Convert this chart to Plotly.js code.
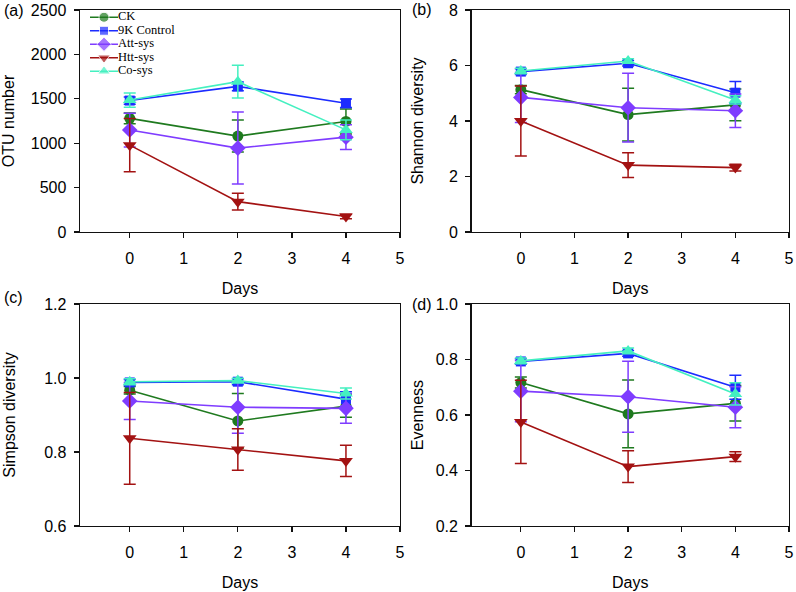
<!DOCTYPE html>
<html>
<head>
<meta charset="utf-8">
<script src="https://cdn.plot.ly/plotly-3.0.1.min.js"></script>
<style>html,body{margin:0;padding:0;background:#fff;}#chart{width:796px;height:592px;}</style>
</head>
<body>
<div id="chart"></div>
<script>
// ---- data ----
const days = [0, 2, 4];
const seriesNames = ['CK', '9K Control', 'Att-sys', 'Htt-sys', 'Co-sys'];

// (a) OTU number
const otuCK = [1280, 1080, 1245];      const otuCKErr = [60, 180, 140];
const otu9K = [1480, 1640, 1450];      const otu9KErr = [40, 50, 48];
const otuAtt = [1148, 945, 1068];      const otuAttErr = [190, 405, 140];
const otuHtt = [978, 342, 175];        const otuHttErr = [300, 95, 25];
const otuCo = [1486, 1693, 1150];      const otuCoErr = [80, 185, 110];

// (b) Shannon diversity
const shaCK = [5.13, 4.23, 4.58];      const shaCKErr = [0.15, 0.95, 0.57];
const sha9K = [5.78, 6.08, 5.02];      const sha9KErr = [0.1, 0.1, 0.4];
const shaAtt = [4.85, 4.48, 4.37];     const shaAttErr = [0.9, 1.24, 0.6];
const shaHtt = [4.0, 2.41, 2.32];      const shaHttErr = [1.26, 0.45, 0.12];
const shaCo = [5.8, 6.16, 4.76];       const shaCoErr = [0.1, 0.08, 0.15];

// (c) Simpson diversity
const simCK = [0.967, 0.884, 0.924];   const simCKErr = [0.01, 0.074, 0.03];
const sim9K = [0.988, 0.99, 0.943];    const sim9KErr = [0.008, 0.008, 0.02];
const simAtt = [0.938, 0.921, 0.918];  const simAttErr = [0.05, 0.07, 0.04];
const simHtt = [0.837, 0.807, 0.776];  const simHttErr = [0.124, 0.056, 0.042];
const simCo = [0.99, 0.993, 0.958];    const simCoErr = [0.008, 0.006, 0.015];

// (d) Evenness
const evnCK = [0.717, 0.604, 0.642];   const evnCKErr = [0.02, 0.122, 0.064];
const evn9K = [0.793, 0.822, 0.70];    const evn9KErr = [0.01, 0.01, 0.043];
const evnAtt = [0.686, 0.666, 0.628];  const evnAttErr = [0.11, 0.128, 0.074];
const evnHtt = [0.575, 0.414, 0.45];   const evnHttErr = [0.15, 0.057, 0.018];
const evnCo = [0.795, 0.831, 0.676];   const evnCoErr = [0.01, 0.01, 0.04];

const xTicks = [0, 1, 2, 3, 4, 5];
const yTicksA = [0, 500, 1000, 1500, 2000, 2500];
const yTicksB = [0, 2, 4, 6, 8];
const yTicksC = [0.6, 0.8, 1.0, 1.2];
const yTicksD = [0.2, 0.4, 0.6, 0.8, 1.0];

// ---- styles ----
const colors = ['#1f7a1f', '#1c2cff', '#7f3cff', '#a31212', '#44f0c0'];
const symbols = ['circle', 'square', 'diamond', 'triangle-down', 'triangle-up'];
const msizes = [11, 10, 12, 12, 12];

const panels = [
  {xa: 'x', ya: 'y', vals: [otuCK, otu9K, otuAtt, otuHtt, otuCo], errs: [otuCKErr, otu9KErr, otuAttErr, otuHttErr, otuCoErr]},
  {xa: 'x2', ya: 'y2', vals: [shaCK, sha9K, shaAtt, shaHtt, shaCo], errs: [shaCKErr, sha9KErr, shaAttErr, shaHttErr, shaCoErr]},
  {xa: 'x3', ya: 'y3', vals: [simCK, sim9K, simAtt, simHtt, simCo], errs: [simCKErr, sim9KErr, simAttErr, simHttErr, simCoErr]},
  {xa: 'x4', ya: 'y4', vals: [evnCK, evn9K, evnAtt, evnHtt, evnCo], errs: [evnCKErr, evn9KErr, evnAttErr, evnHttErr, evnCoErr]}
];

const traces = [];
panels.forEach(p => {
  seriesNames.forEach((name, i) => {
    traces.push({
      type: 'scatter', mode: 'lines+markers', name: name, showlegend: false,
      x: days, y: p.vals[i], xaxis: p.xa, yaxis: p.ya,
      line: {color: colors[i], width: 1.6},
      marker: {color: colors[i], symbol: symbols[i], size: msizes[i]},
      error_y: {type: 'data', array: p.errs[i], visible: true, color: colors[i], thickness: 1.5, width: 6},
      cliponaxis: false
    });
  });
});

// custom compact legend (rows derived from series index)
seriesNames.forEach((name, i) => {
  traces.push({
    type: 'scatter', mode: 'lines+markers+text', showlegend: false, hoverinfo: 'skip',
    x: [0, 14, 28], y: [i, i, i], xaxis: 'x5', yaxis: 'y5',
    line: {color: colors[i], width: 1.6},
    marker: {color: colors[i], symbol: symbols[i], size: [0, msizes[i] - 1, 0]},
    text: ['', '', name], textposition: 'middle right',
    textfont: {family: 'Liberation Serif, Times New Roman, serif', size: 12.5, color: '#000'},
    cliponaxis: false
  });
});

const W = 796, H = 592;
const dx = (a, b) => [a / W, b / W];
const dy = (top, bot) => [1 - bot / H, 1 - top / H];

const fontFam = 'Liberation Sans, Arial, sans-serif';
function xAxis(dom, anchor) {
  return {
    domain: dom, anchor: anchor, range: [-0.92, 5.0], tickvals: xTicks,
    ticks: 'outside', ticklen: 5, tickwidth: 1.3, tickcolor: '#111',
    showline: true, linecolor: '#111', linewidth: 1.4, mirror: true,
    showgrid: false, zeroline: false, automargin: false,
    tickfont: {family: fontFam, size: 16, color: '#000'}, ticklabelstandoff: 6,
    title: {text: 'Days', font: {family: fontFam, size: 16, color: '#000'}, standoff: 17}
  };
}
function yAxis(dom, anchor, range, ticks, fmt, title, standoff) {
  return {
    domain: dom, anchor: anchor, range: range, tickvals: ticks, tickformat: fmt,
    ticks: 'outside', ticklen: 5, tickwidth: 1.3, tickcolor: '#111',
    showline: true, linecolor: '#111', linewidth: 1.4, mirror: true,
    showgrid: false, zeroline: false, automargin: false,
    tickfont: {family: fontFam, size: 16, color: '#000'}, ticklabelstandoff: 4,
    title: {text: title, font: {family: fontFam, size: 16, color: '#000'}, standoff: standoff}
  };
}

const layout = {
  width: W, height: H, margin: {l: 0, r: 0, t: 0, b: 0},
  paper_bgcolor: '#fff', plot_bgcolor: 'rgba(0,0,0,0)', showlegend: false,
  xaxis: xAxis(dx(80, 400), 'y'),
  yaxis: yAxis(dy(10, 232), 'x', [0, 2500], yTicksA, 'd', 'OTU number', 18),
  xaxis2: xAxis(dx(471.5, 789), 'y2'),
  yaxis2: yAxis(dy(10, 232), 'x2', [0, 8], yTicksB, 'd', 'Shannon diversity', 21),
  xaxis3: xAxis(dx(80, 400), 'y3'),
  yaxis3: yAxis(dy(304, 526), 'x3', [0.6, 1.2], yTicksC, '.1f', 'Simpson diversity', 24),
  xaxis4: xAxis(dx(471.5, 789), 'y4'),
  yaxis4: yAxis(dy(304, 526), 'x4', [0.2, 1.0], yTicksD, '.1f', 'Evenness', 8),
  xaxis5: {domain: dx(90, 200), anchor: 'y5', range: [0, 110], visible: false, fixedrange: true},
  yaxis5: {domain: dy(10.5, 78), anchor: 'x5', range: [4.5, -0.5], visible: false, fixedrange: true},
  annotations: [
    {text: '(a)', x: 2 / W, y: 1 - 11 / H},
    {text: '(b)', x: 410 / W, y: 1 - 10 / H},
    {text: '(c)', x: 2 / W, y: 1 - 297 / H},
    {text: '(d)', x: 410 / W, y: 1 - 304 / H}
  ].map(a => Object.assign(a, {xref: 'paper', yref: 'paper', xanchor: 'left', yanchor: 'middle',
    showarrow: false, font: {family: fontFam, size: 16, color: '#000'}}))
};

Plotly.newPlot('chart', traces, layout, {displayModeBar: false, staticPlot: true});
</script>
</body>
</html>
